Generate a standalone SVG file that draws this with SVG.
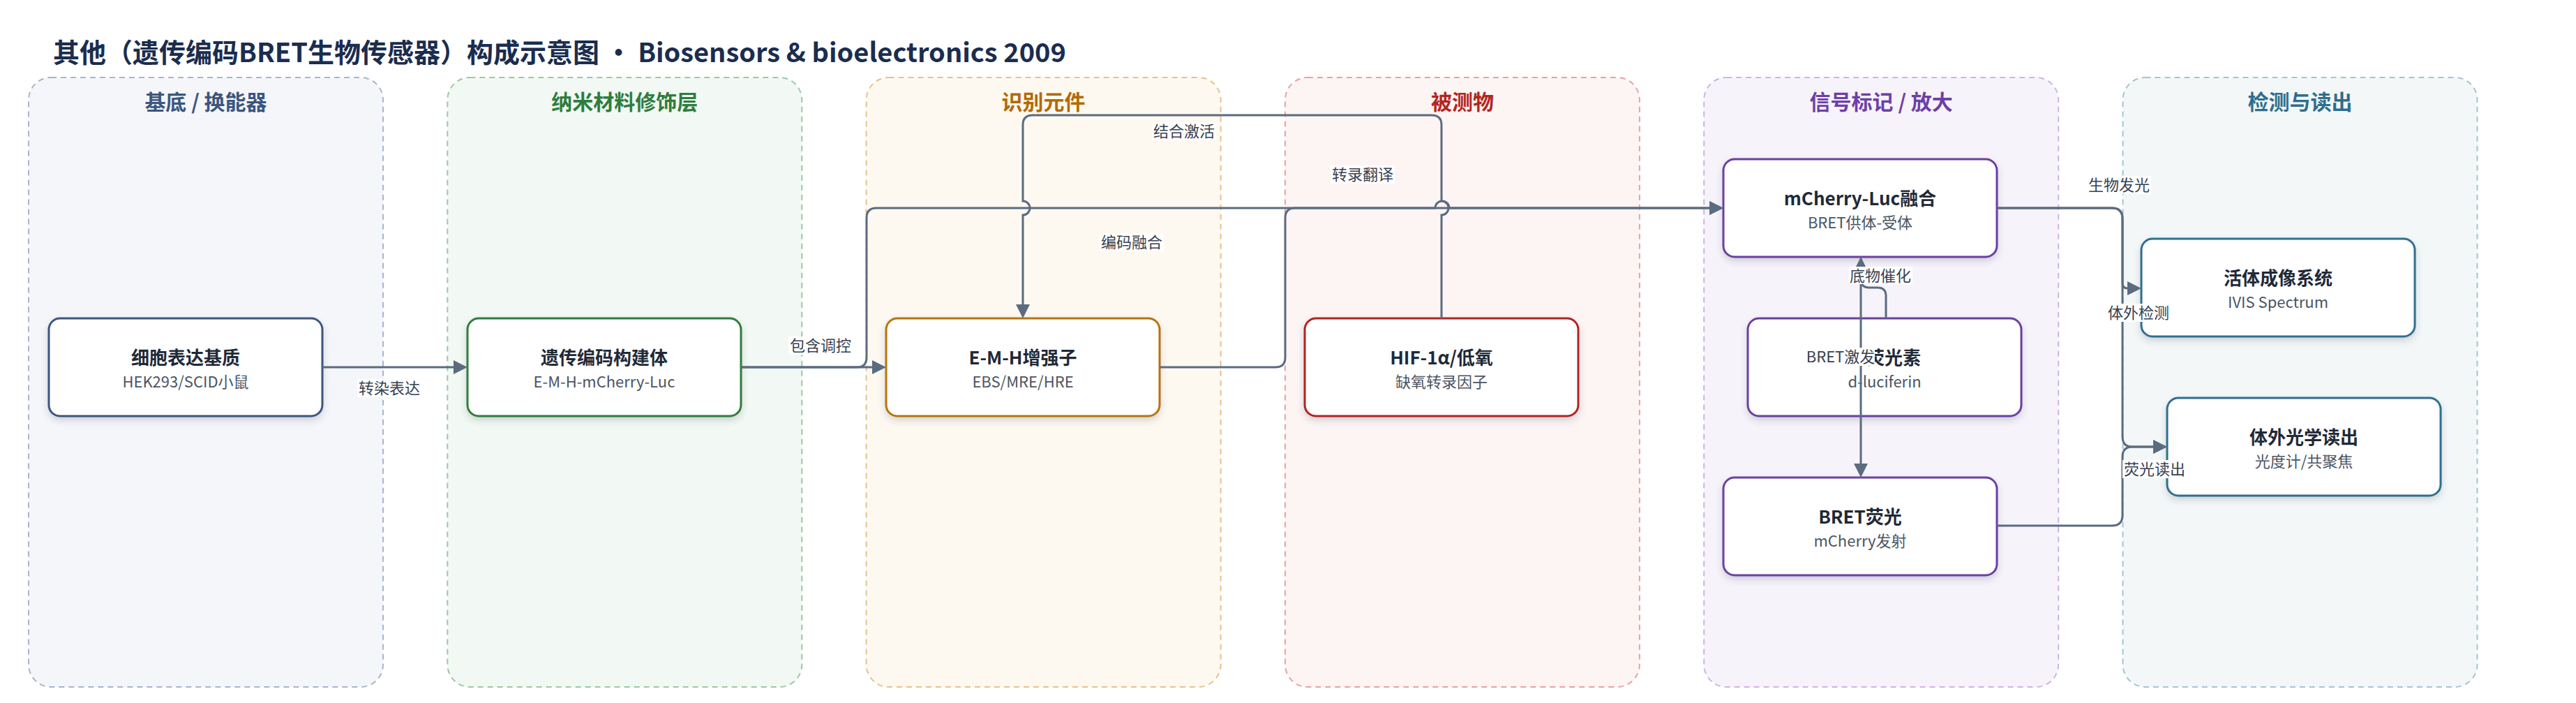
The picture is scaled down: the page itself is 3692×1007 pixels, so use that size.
<svg xmlns="http://www.w3.org/2000/svg" width="3692" height="1007" viewBox="0 0 3692 1007">
<defs>
<filter id="sh" x="-10%" y="-20%" width="120%" height="150%">
<feDropShadow dx="0" dy="5" stdDeviation="5" flood-color="#334155" flood-opacity="0.2"/>
</filter>
<marker id="arr" markerWidth="20" markerHeight="20" refX="0" refY="10" orient="auto" markerUnits="userSpaceOnUse">
<path d="M0,0 L20,10 L0,20 z" fill="#5b6b80"/>
</marker>
</defs>
<style>
text{font-family:"Noto Sans CJK SC","Noto Sans",sans-serif;}
.title{font-size:38px;font-weight:bold;fill:#1b2d4f;}
.lane{stroke-width:2;stroke-dasharray:8 6;}
.lt{font-size:30px;font-weight:bold;text-anchor:middle;}
.node{fill:#fff;stroke-width:3;filter:url(#sh);}
.nt{font-size:26px;font-weight:bold;fill:#1f2937;text-anchor:middle;}
.ns{font-size:22px;fill:#4b5563;text-anchor:middle;}
.edge{fill:none;stroke:#5b6b80;stroke-width:3;}
.lb{fill:#fff;}
.lbt{font-size:22px;fill:#374151;text-anchor:middle;}
</style>
<rect width="3692" height="1007" fill="#fff"/>
<text class="title" x="76" y="89">其他（遗传编码BRET生物传感器）构成示意图 · Biosensors &amp; bioelectronics 2009</text>

<g id="lanes">
<g id="lane-substrate"><rect class="lane" x="41" y="111" width="508" height="873" rx="32" fill="#f5f6fa" stroke="#a9b5c8"/><text class="lt" x="295" y="157" fill="#3b5680">基底 / 换能器</text></g>
<g id="lane-nano"><rect class="lane" x="641.3" y="111" width="508" height="873" rx="32" fill="#f2f8f3" stroke="#9cc8a6"/><text class="lt" x="895.3" y="157" fill="#2e7d3e">纳米材料修饰层</text></g>
<g id="lane-recog"><rect class="lane" x="1241.6" y="111" width="508" height="873" rx="32" fill="#fdf9f1" stroke="#e6c28c"/><text class="lt" x="1495.6" y="157" fill="#b36a00">识别元件</text></g>
<g id="lane-analyte"><rect class="lane" x="1841.9" y="111" width="508" height="873" rx="32" fill="#fdf4f4" stroke="#e6a3a3"/><text class="lt" x="2095.9" y="157" fill="#b3261e">被测物</text></g>
<g id="lane-signal"><rect class="lane" x="2442.2" y="111" width="508" height="873" rx="32" fill="#f7f3fa" stroke="#cdb5e3"/><text class="lt" x="2696.2" y="157" fill="#6d3fa6">信号标记 / 放大</text></g>
<g id="lane-detect"><rect class="lane" x="3042.5" y="111" width="508" height="873" rx="32" fill="#f3f7f8" stroke="#a6c4d0"/><text class="lt" x="3296.5" y="157" fill="#2e6e8e">检测与读出</text></g>
</g>

<g id="nodes">
<g id="n-cell"><rect class="node" x="70" y="456" width="392" height="140" rx="16" stroke="#3d5580"/><text class="nt" x="266" y="522">细胞表达基质</text><text class="ns" x="266" y="555">HEK293/SCID小鼠</text></g>
<g id="n-construct"><rect class="node" x="670" y="456" width="392" height="140" rx="16" stroke="#2e7d3e"/><text class="nt" x="866" y="522">遗传编码构建体</text><text class="ns" x="866" y="555">E-M-H-mCherry-Luc</text></g>
<g id="n-enhancer"><rect class="node" x="1270" y="456" width="392" height="140" rx="16" stroke="#b8730c"/><text class="nt" x="1466" y="522">E-M-H增强子</text><text class="ns" x="1466" y="555">EBS/MRE/HRE</text></g>
<g id="n-hif"><rect class="node" x="1870" y="456" width="392" height="140" rx="16" stroke="#b22222"/><text class="nt" x="2066" y="522">HIF-1α/低氧</text><text class="ns" x="2066" y="555">缺氧转录因子</text></g>
<g id="n-fusion"><rect class="node" x="2470" y="228" width="392" height="140" rx="16" stroke="#6b3fa0"/><text class="nt" x="2666" y="294">mCherry-Luc融合</text><text class="ns" x="2666" y="327">BRET供体-受体</text></g>
<g id="n-luciferin"><rect class="node" x="2505" y="456" width="392" height="140" rx="16" stroke="#6b3fa0"/><text class="nt" x="2675" y="522" style="text-anchor:start">荧光素</text><text class="ns" x="2701" y="555">d-luciferin</text></g>
<g id="n-bret"><rect class="node" x="2470" y="684" width="392" height="140" rx="16" stroke="#6b3fa0"/><text class="nt" x="2666" y="750">BRET荧光</text><text class="ns" x="2666" y="783">mCherry发射</text></g>
<g id="n-ivis"><rect class="node" x="3069" y="342" width="392" height="140" rx="16" stroke="#2f6f8f"/><text class="nt" x="3265" y="408">活体成像系统</text><text class="ns" x="3265" y="441">IVIS Spectrum</text></g>
<g id="n-optical"><rect class="node" x="3106" y="570" width="392" height="140" rx="16" stroke="#2f6f8f"/><text class="nt" x="3302" y="636">体外光学读出</text><text class="ns" x="3302" y="669">光度计/共聚焦</text></g>
</g>

<g id="connectors">
<path class="edge" d="M462,526 H650" marker-end="url(#arr)"/>
<path class="edge" d="M1062,526 H1250" marker-end="url(#arr)"/>
<path class="edge" d="M1062,526 H1228 Q1242,526 1242,512 V312 Q1242,298 1256,298 H2450" marker-end="url(#arr)"/>
<path class="edge" d="M1662,526 H1828 Q1842,526 1842,512 V312 Q1842,298 1856,298 H2057 A10,10 0 0,1 2077,298 H2450" marker-end="url(#arr)"/>
<path class="edge" d="M2066,456 V308 A10,10 0 0,0 2066,288 V179 Q2066,165 2052,165 H1480 Q1466,165 1466,179 V288 A10,10 0 0,1 1466,308 V436" marker-end="url(#arr)"/>
<path class="edge" d="M2862,298 H3027 Q3042,298 3042,313 V405 Q3042,413 3049,413" marker-end="url(#arr)"/>
<path class="edge" d="M2862,298 H3027 Q3042,298 3042,313 V626 Q3042,640 3056,640 H3086" marker-end="url(#arr)"/>
<path class="edge" d="M2862,753 H3027 Q3042,753 3042,738 V654 Q3042,640 3056,640 H3086" marker-end="url(#arr)"/>
<path class="edge" d="M2703,456 V424 Q2703,412 2691,412 H2679 Q2667,412 2667,400 V388" marker-end="url(#arr)"/>
<path class="edge" d="M2667,368 V664" marker-end="url(#arr)"/>
</g>

<g id="edge-labels">
<rect class="lb" x="512" y="543" width="92" height="26"/><text class="lbt" x="558" y="564">转染表达</text>
<rect class="lb" x="1130" y="482" width="92" height="26"/><text class="lbt" x="1176" y="503">包含调控</text>
<rect class="lb" x="1576" y="334" width="92" height="26"/><text class="lbt" x="1622" y="355">编码融合</text>
<rect class="lb" x="1651" y="175" width="92" height="26"/><text class="lbt" x="1697" y="196">结合激活</text>
<rect class="lb" x="1907" y="237" width="92" height="26"/><text class="lbt" x="1953" y="258">转录翻译</text>
<rect class="lb" x="2991" y="252" width="92" height="26"/><text class="lbt" x="3037" y="273">生物发光</text>
<rect class="lb" x="3019" y="435" width="92" height="26"/><text class="lbt" x="3065" y="456">体外检测</text>
<rect class="lb" x="3042" y="659" width="92" height="26"/><text class="lbt" x="3088" y="680">荧光读出</text>
<rect class="lb" x="2650" y="382" width="91" height="25"/><text class="lbt" x="2695" y="403">底物催化</text>
<rect class="lb" x="2590" y="498" width="97" height="26"/><text class="lbt" x="2638" y="519">BRET激发</text>
</g>
</svg>
